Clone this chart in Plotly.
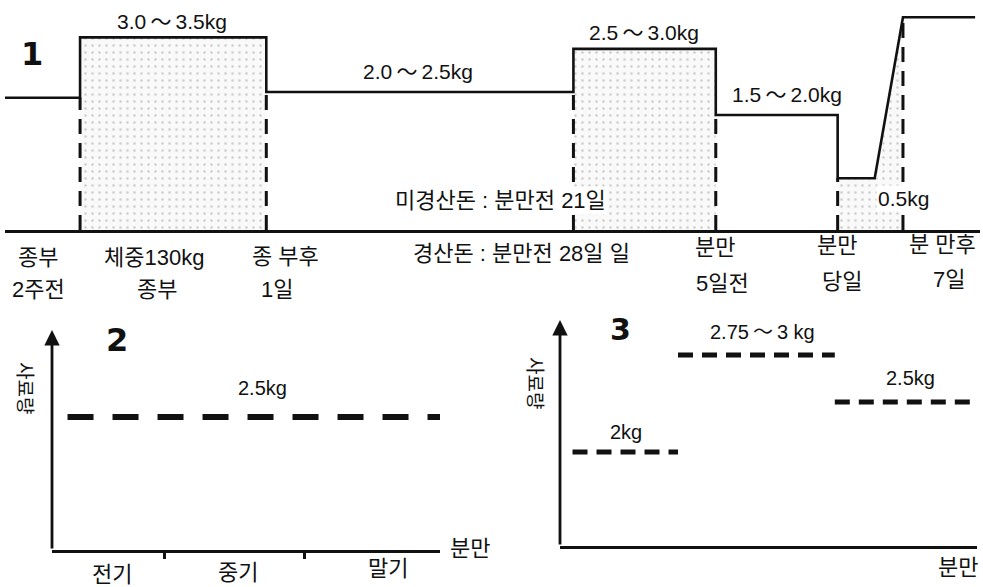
import plotly.graph_objects as go

W, H = 983, 587

# ---------------- Panel 1 data (schematic position 0-100, feed level) ----------------
p1_bounds = [0, 7.7, 26.8, 58.3, 72.9, 85.4]      # start of each phase
p1_levels = [2.3, 3.35, 2.4, 3.15, 2.0, 0.9]       # feed level of each phase
p1_ramp = [89.2, 92.1]                             # ramp start / end after farrowing
p1_final = 3.7                                      # level 7 days after farrowing
p1_end = 99.5
p1_band_labels = ["3.0\u2009～\u20093.5kg", "2.0\u2009～\u20092.5kg", "2.5\u2009～\u20093.0kg",
                  "1.5\u2009～\u20092.0kg", "0.5kg"]
p1_tick_top = ["종부", "체중130kg", "종 부후", "분만", "분만", "분 만후"]
p1_tick_bottom = ["2주전", "종부", "1일", "5일전", "당일", "7일"]
p1_notes = ["미경산돈 : 분만전 21일", "경산돈 : 분만전 28일 일"]

# ---------------- Panel 2 data ----------------
p2_phases = ["전기", "중기", "말기"]
p2_phase_bounds = [29, 65]
p2_level = 2.5
p2_span = [4, 100]
p2_label = "2.5kg"

# ---------------- Panel 3 data ----------------
p3_starts = [3, 28.3, 65.9]
p3_ends = [28.3, 65.9, 98.3]
p3_levels = [2.0, 2.97, 2.5]
p3_labels = ["2kg", "2.75\u2009～\u20093 kg", "2.5kg"]

y_title = "사료량"
x_end_label = "분만"

FONT = "Liberation Sans, Noto Sans CJK KR, sans-serif"
INK = "#111111"

fig = go.Figure()

# ---- Panel 1: shaded regions ----
fill_style = dict(fill="toself", mode="none", fillcolor="rgba(0,0,0,0.025)",
                  fillpattern=dict(shape=".", fgcolor="rgba(0,0,0,0.35)", size=7,
                                   solidity=0.1, fillmode="overlay"),
                  showlegend=False, hoverinfo="skip", xaxis="x", yaxis="y")
for i in (1, 3):
    x0, x1 = p1_bounds[i], p1_bounds[i + 1]
    lv = p1_levels[i]
    fig.add_trace(go.Scatter(x=[x0, x0, x1, x1, x0], y=[0, lv, lv, 0, 0], **fill_style))
x0 = p1_bounds[-1]
fig.add_trace(go.Scatter(x=[x0, x0, p1_ramp[0], p1_ramp[1], p1_ramp[1], x0],
                         y=[0, p1_levels[-1], p1_levels[-1], p1_final, 0, 0], **fill_style))

# ---- Panel 1: dashed verticals ----
dx, dy = [], []
for i in range(1, len(p1_bounds)):
    dx += [p1_bounds[i], p1_bounds[i], None]
    dy += [0, min(p1_levels[i - 1], p1_levels[i]), None]
dx += [p1_ramp[1], p1_ramp[1]]
dy += [0, p1_final]
fig.add_trace(go.Scatter(x=dx, y=dy, mode="lines", line=dict(color=INK, width=3, dash="15px,9px"),
                         showlegend=False, hoverinfo="skip", xaxis="x", yaxis="y"))

# ---- Panel 1: step line ----
sx, sy = [], []
for i, (b, lv) in enumerate(zip(p1_bounds, p1_levels)):
    e = p1_bounds[i + 1] if i + 1 < len(p1_bounds) else p1_ramp[0]
    sx += [b, e]
    sy += [lv, lv]
sx += [p1_ramp[1], p1_end]
sy += [p1_final, p1_final]
fig.add_trace(go.Scatter(x=sx, y=sy, mode="lines", line=dict(color=INK, width=2.6),
                         showlegend=False, hoverinfo="skip", xaxis="x", yaxis="y"))

# ---- Panel 2 ----
fig.add_trace(go.Scatter(x=p2_span, y=[p2_level, p2_level], mode="lines",
                         line=dict(color=INK, width=6, dash="26px,19px"),
                         showlegend=False, hoverinfo="skip", xaxis="x2", yaxis="y2"))

# ---- Panel 3 ----
for s, e, lv in zip(p3_starts, p3_ends, p3_levels):
    fig.add_trace(go.Scatter(x=[s, e], y=[lv, lv], mode="lines",
                             line=dict(color=INK, width=5, dash="15px,9px"),
                             showlegend=False, hoverinfo="skip", xaxis="x3", yaxis="y3"))


def P(px, py, text, size=22, **kw):
    d = dict(x=px / W, y=1 - py / H, xref="paper", yref="paper", text=text,
             showarrow=False, xanchor="center", yanchor="middle",
             font=dict(family=FONT, size=size, color=INK))
    d.update(kw)
    return d


BIG = dict(family="DejaVu Sans", size=32, color=INK)
ann = []
# panel numbers
ann.append(P(32, 54, "<b>1</b>", font=BIG))
ann.append(P(117, 340, "<b>2</b>", font=BIG))
ann.append(P(620, 329, "<b>3</b>", font=dict(family="DejaVu Sans", size=30, color=INK)))

# panel 1 band labels
band_pos = [(172, 21), (418, 72), (644, 32), (787, 94), (903, 199)]
for t, (px, py) in zip(p1_band_labels, band_pos):
    extra = dict(bgcolor="white") if t == "0.5kg" else {}
    ann.append(P(px, py, t, size=21, **extra))
ann.append(P(500, 201, p1_notes[0], size=22, bgcolor="white"))
ann.append(P(521, 253, p1_notes[1], size=22))

top_pos = [(38, 257), (154, 257), (285, 256), (715, 247), (837, 245), (942, 244)]
bot_pos = [(38, 290), (157, 290), (277, 289), (722, 283), (842, 281), (949, 280)]
for t, (px, py) in zip(p1_tick_top, top_pos):
    ann.append(P(px, py, t, size=22))
for t, (px, py) in zip(p1_tick_bottom, bot_pos):
    ann.append(P(px, py, t, size=22))

# panel 2 text
ann.append(P(262, 388, p2_label, size=20))
for t, (px, py) in zip(p2_phases, [(112, 574), (238, 572), (388, 568)]):
    ann.append(P(px, py, t, size=22))
ann.append(P(470, 548, x_end_label, size=22))
ann.append(P(25, 388, y_title, size=19, textangle=90))

# panel 3 text
for t, (px, py) in zip(p3_labels, [(626, 432), (762, 332), (910, 378)]):
    ann.append(P(px, py, t, size=20))
ann.append(P(958, 567, x_end_label, size=22))
ann.append(P(535, 383, y_title, size=19, textangle=90))

# y-axis arrows for panels 2 and 3
ann.append(dict(x=0, y=3.37, xref="x2", yref="y2", ax=0, ay=1.17, axref="x2", ayref="y2",
                text="", showarrow=True, arrowhead=2, arrowsize=1.1, arrowwidth=2.8, arrowcolor=INK))
ann.append(dict(x=0, y=3.32, xref="x3", yref="y3", ax=0, ay=1.06, axref="x3", ayref="y3",
                text="", showarrow=True, arrowhead=2, arrowsize=1.1, arrowwidth=2.8, arrowcolor=INK))

hidden_y = dict(visible=False, showgrid=False, zeroline=False, fixedrange=True)
base_x = dict(showgrid=False, zeroline=False, showline=True, linecolor=INK,
              showticklabels=False, fixedrange=True, range=[0, 100])

fig.update_layout(
    width=W, height=H, autosize=False,
    margin=dict(l=0, r=0, t=0, b=0),
    paper_bgcolor="white", plot_bgcolor="rgba(0,0,0,0)",
    showlegend=False,
    xaxis=dict(domain=[5 / W, 980 / W], anchor="y", linewidth=2.5, ticks="", **base_x),
    yaxis=dict(domain=[1 - 230 / H, 1.0], range=[0, 4], anchor="x", **hidden_y),
    xaxis2=dict(domain=[52 / W, 440 / W], anchor="y2", linewidth=3, ticks="outside",
                tickvals=p2_phase_bounds, ticklen=6, tickwidth=2.5, tickcolor=INK, **base_x),
    yaxis2=dict(domain=[1 - 550 / H, 1 - 330 / H], range=[1.17, 3.37], anchor="x2", **hidden_y),
    xaxis3=dict(domain=[560 / W, 977 / W], anchor="y3", linewidth=3, ticks="", **base_x),
    yaxis3=dict(domain=[1 - 546 / H, 1 - 320 / H], range=[1.06, 3.32], anchor="x3", **hidden_y),
    annotations=ann,
)

fig.write_html("out.html", config={"displayModeBar": False},
               post_script="document.body.style.margin='0px';document.body.style.overflow='hidden';")
